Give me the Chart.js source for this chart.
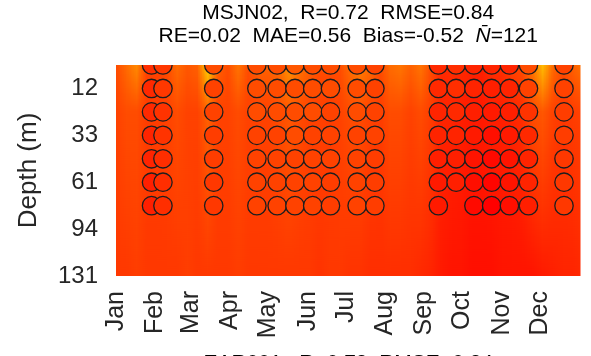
<!DOCTYPE html>
<html>
<head>
<meta charset="utf-8">
<script src="https://cdn.jsdelivr.net/npm/chart.js@4.4.1/dist/chart.umd.min.js"></script>
<style>
  html, body { margin: 0; padding: 0; background: #fff; }
  #wrap { width: 591px; height: 356px; }
</style>
</head>
<body>
<div id="wrap"><canvas id="myChart" width="591" height="356"></canvas></div>
<script>
// tick labels
var monthNames = ["Jan","Feb","Mar","Apr","May","Jun","Jul","Aug","Sep","Oct","Nov","Dec"];
var monthStart = [0, 31, 59, 90, 120, 151, 181, 212, 243, 273, 304, 334];
var depthLevels = [1, 3, 5, 7, 9];
var depthLabels = ["12", "33", "61", "94", "131"];

// model field (colour index, 0.6 = yellow ... 1 = dark red), every 8 days
var fieldDays = [0,8,16,24,32,40,48,56,64,72,80,88,96,104,112,120,128,136,144,152,160,168,176,184,
                 192,200,208,216,224,232,240,248,256,264,272,280,288,296,304,312,320,328,336,344,352,360,368];
var fieldSurf = [0.80,0.77,0.74,0.81,0.81,0.80,0.77,0.79,0.78,0.67,0.78,0.80,0.76,0.80,0.78,0.78,
                 0.77,0.73,0.76,0.78,0.80,0.80,0.80,0.77,0.75,0.77,0.80,0.77,0.76,0.78,0.76,0.80,
                 0.835,0.83,0.835,0.84,0.845,0.83,0.83,0.81,0.80,0.76,0.69,0.77,0.80,0.78,0.76];
var fieldSub  = [0.81,0.80,0.80,0.815,0.815,0.81,0.80,0.81,0.81,0.78,0.81,0.81,0.80,0.81,0.81,0.81,
                 0.80,0.79,0.80,0.81,0.81,0.815,0.81,0.80,0.80,0.81,0.815,0.80,0.80,0.81,0.80,0.815,
                 0.84,0.84,0.845,0.85,0.85,0.845,0.845,0.84,0.83,0.80,0.79,0.81,0.82,0.815,0.81];
var fieldDeep = [0.82,0.82,0.815,0.82,0.82,0.82,0.82,0.815,0.82,0.82,0.82,0.82,0.815,0.82,0.82,0.82,
                 0.82,0.82,0.82,0.82,0.825,0.82,0.82,0.825,0.825,0.83,0.83,0.83,0.83,0.83,0.835,0.84,
                 0.85,0.855,0.855,0.86,0.86,0.86,0.855,0.855,0.855,0.855,0.85,0.845,0.84,0.84,0.835];
var fieldLevels = [0, 2, 9];

// observations: day of year, levels 0..6, value per level (null = missing)
var obsDays = [28,37,77,111,127,141,155,169,190,204,254,268,282,296,310,325,353];
var obsVal = [
  [0.83,0.835,0.835,0.84,0.84,0.845,0.845],
  [0.82,0.82,0.825,0.825,0.83,0.83,0.83],
  [0.80,0.81,0.81,0.815,0.815,0.82,0.82],
  [0.80,0.80,0.80,0.81,0.81,0.81,0.81],
  [0.80,0.80,0.80,0.81,0.81,0.81,0.81],
  [0.79,0.80,0.80,0.80,0.81,0.81,0.81],
  [0.80,0.80,0.80,0.81,0.81,0.81,0.81],
  [0.80,0.80,0.81,0.81,0.81,0.815,0.815],
  [0.80,0.80,0.80,0.81,0.81,0.81,0.81],
  [0.81,0.81,0.81,0.81,0.815,0.815,0.815],
  [0.835,0.835,0.84,0.84,0.845,0.85,0.85],
  [0.83,0.83,0.835,0.84,0.845,0.845,null],
  [0.84,0.84,0.845,0.85,0.855,0.86,0.865],
  [0.84,0.845,0.85,0.86,0.865,0.87,0.875],
  [0.84,0.84,0.845,0.85,0.855,0.855,0.86],
  [0.80,0.81,0.825,0.835,0.84,0.84,0.845],
  [0.81,0.81,0.815,0.815,0.82,0.82,0.82]
];

var title1 = "MSJN02,  R=0.72  RMSE=0.84";
var title2 = ["RE=0.02  MAE=0.56  Bias=-0.52  ", "N\u0304", "=121"];
var nextTitle = "EAR001,  R=0.73  RMSE=0.84";

// jet-like colour map (upper half)
function jet(t) {
  var r, g;
  if (t <= 0.875) {
    r = 255;
    g = Math.round(255 * Math.min(1, Math.max(0, (0.875 - t) / 0.25)));
  } else {
    r = Math.round(255 * (1 - (t - 0.875) * 2));
    g = 0;
  }
  return "rgb(" + r + "," + g + ",0)";
}

// build scatter points
var pts = [], ptCol = [];
for (var i = 0; i < obsDays.length; i++) {
  for (var k = 0; k < obsVal[i].length; k++) {
    if (obsVal[i][k] === null) continue;
    pts.push({x: obsDays[i], y: k});
    ptCol.push(jet(obsVal[i][k]));
  }
}

// heatmap background drawn through the scales, titles on top
var fieldPlugin = {
  id: 'field',
  beforeDatasetsDraw: function(chart) {
    var ctx = chart.ctx, a = chart.chartArea;
    var xs = chart.scales.x, ys = chart.scales.y;
    var top = ys.getPixelForValue(0), bot = ys.getPixelForValue(9);
    var h = Math.round(bot - top);
    var off = document.createElement('canvas');
    off.width = fieldDays.length; off.height = h;
    var oc = off.getContext('2d');
    for (var i = 0; i < fieldDays.length; i++) {
      var gr = oc.createLinearGradient(0, 0, 0, h);
      var vals = [fieldSurf[i], fieldSub[i], fieldDeep[i]];
      for (var j = 0; j < fieldLevels.length; j++) {
        gr.addColorStop((ys.getPixelForValue(fieldLevels[j]) - top) / h, jet(vals[j]));
      }
      oc.fillStyle = gr;
      oc.fillRect(i, 0, 1, h);
    }
    var step = fieldDays[1] - fieldDays[0];
    var x0 = xs.getPixelForValue(fieldDays[0] - step / 2);
    var x1 = xs.getPixelForValue(fieldDays[fieldDays.length - 1] + step / 2);
    ctx.save();
    ctx.beginPath();
    ctx.rect(a.left, a.top, a.right - a.left, a.bottom - a.top);
    ctx.clip();
    ctx.imageSmoothingEnabled = true;
    ctx.drawImage(off, x0, top, x1 - x0, h);
    ctx.restore();
  },
  afterDraw: function(chart) {
    var ctx = chart.ctx, a = chart.chartArea;
    var cx = (a.left + a.right) / 2;
    var fN = '21px "Liberation Sans", Arial, sans-serif';
    var fI = 'italic 21px "Liberation Sans", Arial, sans-serif';
    ctx.save();
    ctx.fillStyle = '#000';
    ctx.textBaseline = 'middle';
    ctx.textAlign = 'center';
    ctx.font = fN;
    ctx.fillText(title1, cx, 13);
    // second line with italic N-bar
    var w = [];
    ctx.font = fN; w.push(ctx.measureText(title2[0]).width);
    ctx.font = fI; w.push(ctx.measureText(title2[1]).width);
    ctx.font = fN; w.push(ctx.measureText(title2[2]).width);
    var x = cx - (w[0] + w[1] + w[2]) / 2;
    ctx.textAlign = 'left';
    for (var i = 0; i < 3; i++) {
      ctx.font = (i === 1) ? fI : fN;
      ctx.fillText(title2[i], x, 36);
      x += w[i];
    }
    ctx.textAlign = 'center';
    ctx.font = fN;
    ctx.fillText(nextTitle, cx, 363);
    ctx.restore();
  }
};

Chart.defaults.font.family = '"Liberation Sans", Arial, sans-serif';
Chart.defaults.color = '#262626';

const ctx = document.getElementById('myChart');

new Chart(ctx, {
  type: 'scatter',
  data: {
    datasets: [{
      data: pts,
      pointRadius: 9.2,
      pointHoverRadius: 9.2,
      pointBorderWidth: 1.3,
      pointBorderColor: '#1e1e1e',
      pointBackgroundColor: ptCol,
      clip: 0
    }]
  },
  options: {
    responsive: false,
    animation: false,
    layout: { padding: { top: 65, right: 1, left: 0, bottom: 0 } },
    plugins: {
      legend: { display: false },
      tooltip: { enabled: false },
      title: { display: false }
    },
    scales: {
      x: {
        type: 'linear',
        min: 0,
        max: 366,
        grid: { display: false, drawTicks: false },
        border: { display: false },
        afterBuildTicks: function(axis) {
          axis.ticks = monthStart.map(function(v) { return {value: v}; });
        },
        afterFit: function(axis) { axis.height = 80; },
        ticks: {
          autoSkip: false,
          minRotation: 90,
          maxRotation: 90,
          padding: 15,
          font: { size: 25 },
          callback: function(v, i) { return monthNames[i]; }
        }
      },
      y: {
        type: 'linear',
        reverse: true,
        min: 0,
        max: 9,
        grid: { display: false, drawTicks: false },
        border: { display: false },
        afterBuildTicks: function(axis) {
          axis.ticks = depthLevels.map(function(v) { return {value: v}; });
        },
        afterFit: function(axis) { axis.width = 116; },
        ticks: {
          padding: 18,
          font: { size: 24 },
          callback: function(v, i) { return depthLabels[i]; }
        },
        title: {
          display: true,
          text: 'Depth (m)',
          font: { size: 26 },
          padding: { top: 13, bottom: 0 }
        }
      }
    }
  },
  plugins: [fieldPlugin]
});
</script>
</body>
</html>
